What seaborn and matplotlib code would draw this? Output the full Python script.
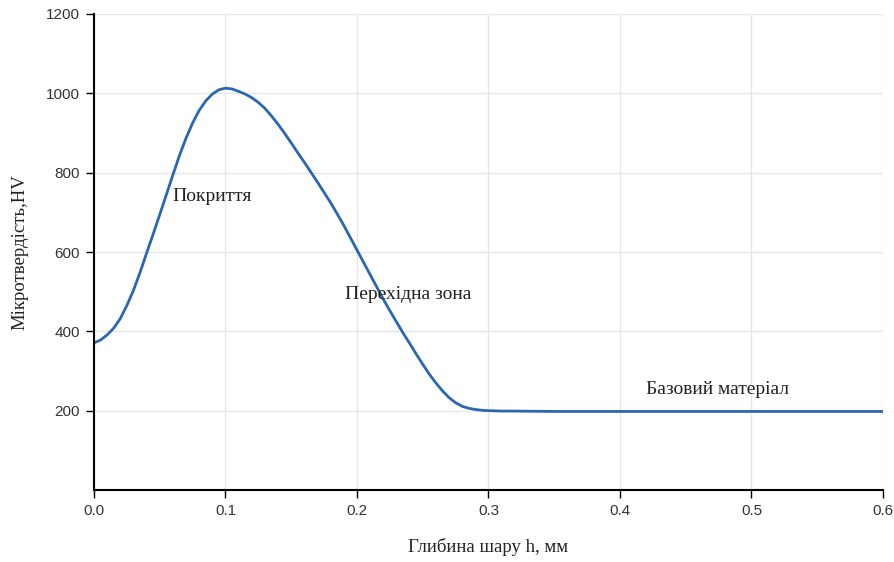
import matplotlib
matplotlib.use("Agg")
import matplotlib.pyplot as plt
import seaborn as sns
import pandas as pd

depth = [0.000, 0.005, 0.010, 0.015, 0.020, 0.025, 0.030, 0.035, 0.040, 0.045,
         0.050, 0.055, 0.060, 0.065, 0.070, 0.075, 0.080, 0.085, 0.090, 0.095,
         0.100, 0.105, 0.110, 0.115, 0.120, 0.125, 0.130, 0.135, 0.140, 0.145,
         0.150, 0.155, 0.160, 0.165, 0.170, 0.175, 0.180, 0.185, 0.190, 0.195,
         0.200, 0.205, 0.210, 0.215, 0.220, 0.225, 0.230, 0.235, 0.240, 0.245,
         0.250, 0.255, 0.260, 0.265, 0.270, 0.275, 0.280, 0.285, 0.290, 0.295,
         0.300, 0.310, 0.320, 0.350, 0.400, 0.450, 0.500, 0.550, 0.600]
hardness = [371, 378, 391, 408, 432, 465, 503, 548, 597, 645,
            694, 744, 794, 843, 887, 925, 957, 981, 998, 1009,
            1013, 1011, 1005, 998, 989, 977, 962, 943, 922, 899,
            875, 850, 826, 801, 776, 750, 724, 696, 667, 636,
            605, 574, 543, 512, 481, 452, 424, 396, 370, 343,
            317, 292, 270, 250, 233, 220, 211, 206, 203, 201,
            200, 199, 199, 198, 198, 198, 198, 198, 198]

zone_labels = ["Покриття", "Перехідна зона", "Базовий матеріал"]
zone_x = [0.060, 0.191, 0.420]
zone_y = [741, 492, 254]

x_ticks = [0.0, 0.1, 0.2, 0.3, 0.4, 0.5, 0.6]
y_ticks = [200, 400, 600, 800, 1000, 1200]

df = pd.DataFrame({"h": depth, "hv": hardness})

sns.set_theme(style="white")
plt.rcParams["font.family"] = ["Liberation Serif", "DejaVu Serif"]

fig = plt.figure(figsize=(8.94, 5.62), dpi=100)
ax = fig.add_axes([0.1051, 0.1281, 0.8826, 0.8470])

sns.lineplot(data=df, x="h", y="hv", ax=ax, color="#2a66b1", linewidth=2.0)

ax.set_xlim(0, 0.6)
ax.set_ylim(0, 1200)
ax.set_xticks(x_ticks)
ax.set_xticklabels([f"{v:.1f}" for v in x_ticks])
ax.set_yticks(y_ticks)
ax.set_yticklabels([str(v) for v in y_ticks])
ax.grid(True, color="#e6e6e6", linewidth=1.0)
ax.set_axisbelow(True)

for side in ["top", "right"]:
    ax.spines[side].set_visible(False)
for side in ["left", "bottom"]:
    ax.spines[side].set_color("black")
    ax.spines[side].set_linewidth(1.5)

ax.tick_params(axis="both", which="major", direction="out", length=6,
               width=1, color="black", labelsize=11, labelcolor="#333333", pad=4,
               bottom=True, left=True)
for lbl in ax.get_xticklabels() + ax.get_yticklabels():
    lbl.set_fontfamily(["Liberation Sans", "DejaVu Sans"])

ax.set_xlabel("Глибина шару h, мм", fontsize=13.5, color="#222222")
ax.set_ylabel("Мікротвердість,HV", fontsize=13.5, color="#222222")
ax.xaxis.set_label_coords(0.5, -0.100)
ax.yaxis.set_label_coords(-0.083, 0.5)

for t, xv, yv in zip(zone_labels, zone_x, zone_y):
    ax.text(xv, yv, t, fontsize=14, color="#222222", ha="left", va="center")

fig.savefig("out.png", dpi=100)
